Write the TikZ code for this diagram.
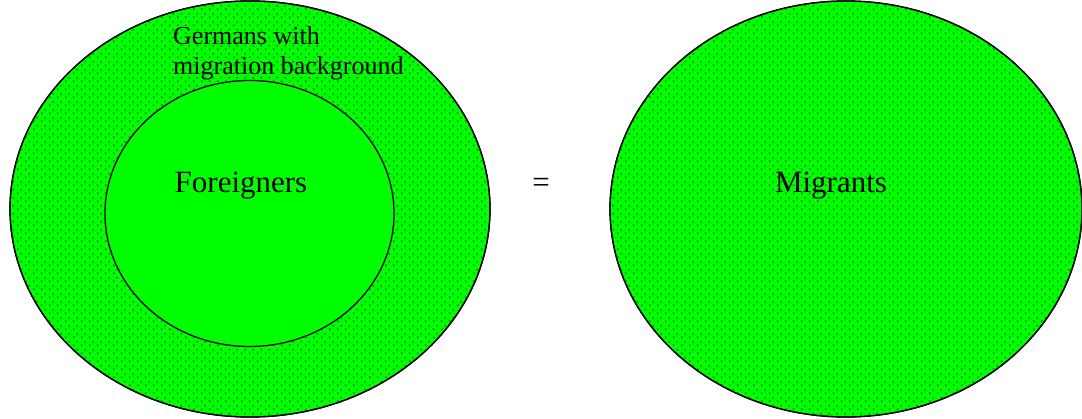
\documentclass[tikz,border=0pt]{standalone}
\usepackage{fontspec}
\setmainfont{Liberation Serif}
\usetikzlibrary{patterns}
\pgfdeclarepatternformonly{greendots}{\pgfqpoint{0pt}{0pt}}{\pgfqpoint{8pt}{8pt}}{\pgfqpoint{8pt}{8pt}}{%
  \pgfpathrectangle{\pgfqpoint{1pt}{1pt}}{\pgfqpoint{2pt}{2pt}}%
  \pgfpathrectangle{\pgfqpoint{5pt}{5pt}}{\pgfqpoint{2pt}{2pt}}%
  \pgfusepath{fill}}
\definecolor{vgreen}{RGB}{0,255,0}
\definecolor{dgreen}{RGB}{0,150,0}
\begin{document}
\begin{tikzpicture}[x=1pt,y=-1pt,
  dotted set/.style={draw=black, line width=1.3pt, fill=vgreen, postaction={pattern=greendots, pattern color=dgreen}, postaction={draw=black, line width=1.3pt}},
  plain set/.style={draw=black, line width=1.3pt, fill=vgreen},
  lbl/.style={font=\fontsize{31}{36}\selectfont, anchor=base, inner sep=0pt}]
\useasboundingbox (0,0) rectangle (1082,419);
\fill[white] (0,0) rectangle (1082,419);
\path[dotted set] (250,209) ellipse [x radius=240, y radius=208];
\path[plain set] (249.5,213.5) ellipse [x radius=144.5, y radius=133];
\path[dotted set] (846,209) ellipse [x radius=236, y radius=208];
\node[font=\fontsize{26}{30}\selectfont, align=left, anchor=base west, inner sep=0pt] (germ) at (173,75) {Germans with\\migration background};
\node[lbl] (for) at (241,193) {Foreigners};
\node[lbl] (eq) at (541,193) {=};
\node[lbl] (mig) at (831,193) {Migrants};
\end{tikzpicture}
\end{document}
